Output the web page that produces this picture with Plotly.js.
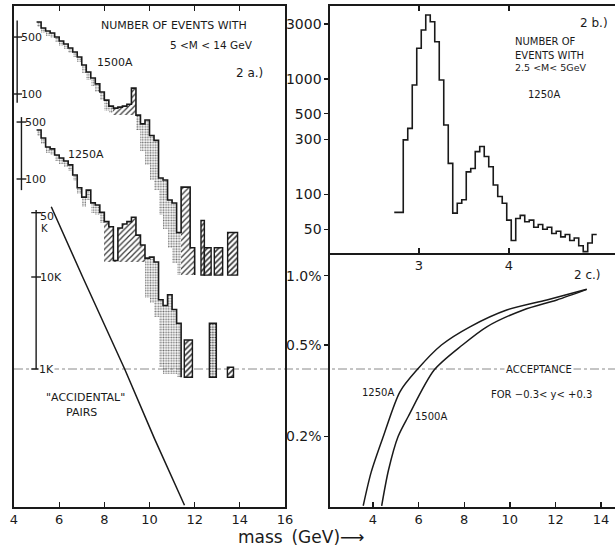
<!DOCTYPE html>
<html><head><meta charset="utf-8">
<script src="https://cdn.plot.ly/plotly-3.0.1.min.js"></script>
<style>html,body{margin:0;padding:0;background:#fff}#chart{width:615px;height:548px}</style>
</head><body><div id="chart"></div>
<script>
// ================= DATA =================
// Panel 2a : number of events, 0.2 GeV bins starting at 5.0 GeV
const binStartA = 5.0, binWidthA = 0.2;
const events1500 = [764, 645, 593, 560, 500, 447, 411, 367, 327, 284, 227, 186, 157, 133, 106, 84, 71, 67, 69, 71, 75, 118, 55, 43, 48, 31, 27, 9.3, 8.8, 5.0, 4.6, 2.0, 7.2, 7.2, 1.3];
const shadeLow1500 = [665, 561, 516, 487, 435, 389, 358, 319, 284, 247, 182, 149, 126, 106, 85, 62, 58, 56, 56, 56, 56, 56, 36, 20, 13.5, 8.8, 6.6, 3.3, 2.2, 1.3, 0.85, 0.6, 0.6, 0.6, 0.6];
const hatchMass1500 = [[8.4, 9.4], [11.4, 12.0]];
const barsLeft1500 = [12.28, 12.43, 12.87, 13.46];
const barsRight1500 = [12.43, 12.73, 13.24, 13.90];
const barsTop1500 = [2.8, 1.3, 1.3, 2.0];
const base1500 = 0.6;

const events1250 = [399, 318, 247, 234, 197, 181, 166, 149, 112, 78, 60, 73, 51, 48, 39, 30, 26, 10, 25, 28, 30, 34, 20.5, 15.5, 10.7, 11, 9.6, 3.3, 2.8, 3.8, 2.5, 1.7];
const shadeLow1250 = [335, 267, 207, 197, 165, 152, 139, 125, 94, 66, 45, 55, 38, 36, 29, 9.5, 9.5, 9.5, 9.5, 9.5, 9.5, 9.5, 9.5, 9.5, 3.5, 3.0, 2.0, 0.5, 0.4, 0.4, 0.4, 0.37];
const hatchMass1250 = [[8.0, 9.8]];
const barsLeft1250 = [11.54, 12.65, 13.45];
const barsRight1250 = [11.90, 12.96, 13.72];
const barsTop1250 = [1.06, 1.7, 0.49];
const barsHatched1250 = [true, false, true];
const base1250 = 0.37;

const accMass = [5.65, 7.04, 8.9, 10.22, 11.55];
const accPairs = [58000, 10000, 1000, 175, 33];

const scaleTicks1500 = [100, 500];
const scaleTicks1250 = [100, 500];
const scaleTicksAcc = [1000, 10000, 50000];

// Panel 2b : 0.05 GeV bins starting at 2.725 GeV (1250A)
const binStartB = 2.725, binWidthB = 0.05;
const eventsLow = [70, 70, 297, 374, 887, 1845, 2655, 3580, 3133, 2104, 980, 400, 186, 69, 84, 90, 157, 168, 235, 260, 213, 174, 121, 96, 84,
                   60, 40, 62, 66, 58, 60, 52, 55, 50, 52, 46, 48, 43, 45, 40, 42, 36, 32, 38, 45];
const ticksB = [50, 100, 300, 500, 1000, 3000];

// Panel 2c : acceptance (%)
const acc1250Mass = [3.57, 3.92, 4.45, 5.18, 5.92, 7.0, 8.25, 9.86, 11.62, 13.37];
const acc1250 = [0.100, 0.140, 0.200, 0.313, 0.389, 0.500, 0.600, 0.710, 0.785, 0.873];
const acc1500Mass = [4.38, 4.68, 5.1, 5.55, 6.68, 7.92, 8.99, 10.59, 12.06, 13.37];
const acc1500 = [0.100, 0.143, 0.200, 0.245, 0.389, 0.500, 0.600, 0.710, 0.785, 0.873];
const ticksC = [0.2, 0.5, 1.0];
const ticksCText = ['0.2%', '0.5%', '1.0%'];

// ================= BUILD =================
const INK = '#1a1a1a';
const W = 615, H = 548;
const px = x => x / W, py = y => 1 - y / H;

function edges(start, width, n) { const e = []; for (let i = 0; i <= n; i++) e.push(+(start + i * width).toFixed(4)); return e; }
function stepLine(ed, vals, base, xa, ya) {
  const x = [], y = [];
  for (let i = 0; i < vals.length; i++) { x.push(ed[i]); y.push(vals[i]); }
  x.push(ed[vals.length]); y.push(vals[vals.length - 1]);
  if (base != null) { x.push(ed[vals.length]); y.push(base); }
  return { type: 'scatter', mode: 'lines', x, y, xaxis: xa, yaxis: ya, line: { shape: 'hv', color: INK, width: 1.6 }, hoverinfo: 'skip' };
}
function inRanges(m, ranges) { return ranges.some(r => m >= r[0] && m <= r[1]); }
function band(ed, vals, low, hatch, ya) {
  const x = [], w = [], b = [], h = [], shp = [], sz = [], sol = [], fg = [];
  for (let i = 0; i < vals.length; i++) {
    const c = (ed[i] + ed[i + 1]) / 2, hat = inRanges(c, hatch);
    x.push(c); w.push(ed[i + 1] - ed[i]); b.push(low[i]); h.push(Math.max(vals[i] - low[i], 0));
    shp.push(hat ? '/' : '.'); sz.push(hat ? 4 : 2.6); sol.push(hat ? 0.3 : 0.4); fg.push(hat ? '#333' : '#707070');
  }
  return { type: 'bar', x, y: h, base: b, width: w, xaxis: 'x', yaxis: ya, hoverinfo: 'skip',
    marker: { color: 'rgba(0,0,0,0)', line: { width: 0 }, pattern: { shape: shp, size: sz, solidity: sol, fgcolor: fg, bgcolor: 'rgba(0,0,0,0)' } } };
}
function bars(L, R, T, base, hatched, ya) {
  const x = L.map((l, i) => (l + R[i]) / 2), w = L.map((l, i) => R[i] - l), y = T.map(t => t - base);
  return { type: 'bar', x, y, base, width: w, xaxis: 'x', yaxis: ya, hoverinfo: 'skip',
    marker: { color: 'white', line: { color: INK, width: 1.4 },
      pattern: { shape: hatched.map(hh => hh ? '/' : '.'), size: hatched.map(hh => hh ? 4 : 2.6), solidity: 0.4, fgcolor: '#333', bgcolor: 'white' } } };
}
function scaleBar(xm, ticks, ya, lo, hi) {
  return [
    { type: 'scatter', mode: 'lines', x: [xm, xm], y: [Math.min(...ticks) * lo, Math.max(...ticks) * hi], xaxis: 'x', yaxis: ya, line: { color: INK, width: 1.4 }, hoverinfo: 'skip' },
    { type: 'scatter', mode: 'markers', x: ticks.map(() => xm), y: ticks, xaxis: 'x', yaxis: ya, hoverinfo: 'skip',
      marker: { symbol: 'line-ew', size: 7, line: { color: INK, width: 1.4 } } }
  ];
}

const edA1500 = edges(binStartA, binWidthA, events1500.length);
const edA1250 = edges(binStartA, binWidthA, events1250.length);
const edB = edges(binStartB, binWidthB, eventsLow.length);

const traces = [
  band(edA1500, events1500, shadeLow1500, hatchMass1500, 'y'),
  band(edA1250, events1250, shadeLow1250, hatchMass1250, 'y2'),
  bars(barsLeft1500, barsRight1500, barsTop1500, base1500, barsLeft1500.map(() => true), 'y'),
  bars(barsLeft1250, barsRight1250, barsTop1250, base1250, barsHatched1250, 'y2'),
  stepLine(edA1500, events1500, base1500, 'x', 'y'),
  stepLine(edA1250, events1250, base1250, 'x', 'y2'),
  { type: 'scatter', mode: 'lines', x: accMass, y: accPairs, xaxis: 'x', yaxis: 'y3', line: { color: INK, width: 1.5 }, hoverinfo: 'skip' },
  ...scaleBar(4.14, scaleTicks1500, 'y', 0.78, 1.6),
  ...scaleBar(4.33, scaleTicks1250, 'y2', 0.73, 1.15),
  ...scaleBar(4.98, scaleTicksAcc, 'y3', 1.0, 1.07),
  stepLine(edB, eventsLow, null, 'x2', 'y4'),
  { type: 'scatter', mode: 'lines', x: acc1250Mass, y: acc1250, xaxis: 'x3', yaxis: 'y5', line: { color: INK, width: 1.5, shape: 'spline', smoothing: 0.8 }, hoverinfo: 'skip' },
  { type: 'scatter', mode: 'lines', x: acc1500Mass, y: acc1500, xaxis: 'x3', yaxis: 'y5', line: { color: INK, width: 1.5, shape: 'spline', smoothing: 0.8 }, hoverinfo: 'skip' }
];

const FONT = 'DejaVu Sans, Liberation Sans, sans-serif';
const axBase = { showgrid: false, zeroline: false, showline: true, linecolor: INK, linewidth: 1.6, tickcolor: INK, tickwidth: 1.3, fixedrange: true };
const tickFontX = { family: FONT, size: 13, color: INK };
const tickFontY = { family: FONT, size: 14, color: INK };

const yTop = 6, yMid = 253, yBot = 507, xA0 = 14, xA1 = 285, xB0 = 330;
const layout = {
  width: W, height: H, margin: { l: 0, r: 0, t: 0, b: 0 }, paper_bgcolor: 'white', plot_bgcolor: 'white',
  showlegend: false, barmode: 'overlay', bargap: 0,
  xaxis: { ...axBase, domain: [px(xA0), px(xA1)], anchor: 'y', range: [4, 16], tickvals: [4, 6, 8, 10, 12, 14, 16], ticks: 'inside', ticklen: 5, mirror: 'ticks', tickfont: tickFontX },
  yaxis: { ...axBase, domain: [py(yBot), py(yTop)], anchor: 'x', type: 'log', range: [2 - (yBot - 94) / 81.5, 2 + (94 - yTop) / 81.5], showticklabels: false, ticks: '', mirror: true },
  yaxis2: { type: 'log', overlaying: 'y', anchor: 'x', range: [2 - (yBot - 179) / 81.5, 2 + (179 - yTop) / 81.5], visible: false, fixedrange: true },
  yaxis3: { type: 'log', overlaying: 'y', anchor: 'x', range: [3 - (yBot - 369) / 92, 3 + (369 - yTop) / 92], visible: false, fixedrange: true },
  xaxis2: { ...axBase, domain: [px(xB0), 1], anchor: 'y4', range: [2.011, 5.178], tickvals: [3, 4], ticks: 'inside', ticklen: 5, mirror: 'ticks', tickfont: tickFontX },
  yaxis4: { ...axBase, domain: [py(yMid), py(yTop)], anchor: 'x2', type: 'log', range: [3 - (yMid - 79) / 115.5, 3 + (79 - yTop) / 115.5],
    tickvals: ticksB, ticktext: ticksB.map(String), ticks: 'outside', ticklen: 4, tickfont: tickFontY },
  xaxis3: { ...axBase, domain: [px(xB0), 1], anchor: 'y5', range: [2.114, 14.61], tickvals: [4, 6, 8, 10, 12, 14], ticks: 'inside', ticklen: 5, tickfont: tickFontX },
  yaxis5: { ...axBase, domain: [py(yBot), py(yMid)], anchor: 'x3', type: 'log', range: [Math.log10(0.5) - (yBot - 345) / 230, Math.log10(0.5) + (345 - yMid) / 230],
    tickvals: ticksC, ticktext: ticksCText, ticks: 'outside', ticklen: 4, tickfont: tickFontY },
  shapes: [
    { type: 'line', xref: 'paper', yref: 'y3', x0: px(xA0), x1: 1, y0: 1000, y1: 1000, layer: 'below', line: { color: '#8a8a8a', width: 1, dash: 'dashdot' } }
  ],
  annotations: []
};

function txt(t, x, y, size, opts) {
  layout.annotations.push(Object.assign({ text: t, xref: 'paper', yref: 'paper', x: px(x), y: py(y), showarrow: false,
    xanchor: 'center', yanchor: 'middle', font: { family: FONT, size: size, color: INK } }, opts || {}));
}
// Panel a texts
txt('NUMBER OF EVENTS WITH', 174, 25, 11);
txt('5 &lt;M &lt; 14 GeV', 211, 45, 10.5);
txt('1500A', 115, 62, 11);
txt('2 a.)', 249, 73, 12);
txt('1250A', 86, 154, 11);
txt('"ACCIDENTAL"', 85, 398, 11);
txt('PAIRS', 81, 412, 11);
// scale-bar labels (data coords; log axes take log10 positions)
function dtxt(t, x, y, ya, size, opts) {
  layout.annotations.push(Object.assign({ text: t, xref: 'x', yref: ya, x: x, y: Math.log10(y), showarrow: false, xanchor: 'left', yanchor: 'middle',
    font: { family: FONT, size: size, color: INK } }, opts || {}));
}
dtxt('500', 4.2, 500, 'y', 11); dtxt('100', 4.2, 100, 'y', 11);
dtxt('500', 4.38, 500, 'y2', 11); dtxt('100', 4.38, 100, 'y2', 11);
dtxt('50', 5.05, 45000, 'y3', 11); dtxt('K', 5.12, 34000, 'y3', 10);
dtxt('10K', 5.05, 10000, 'y3', 11);
dtxt('1K', 5.05, 1000, 'y3', 11, { bgcolor: 'white', borderpad: 0 });
// Panel b texts
txt('2 b.)', 594, 23, 12);
txt('NUMBER OF', 513, 42, 10, { xanchor: 'left' });
txt('EVENTS WITH', 513, 55, 10, { xanchor: 'left' });
txt('2.5 &lt;M&lt; 5GeV', 513, 68, 9.5, { xanchor: 'left' });
txt('1250A', 544, 94, 10);
// Panel c texts
txt('2 c.)', 587, 275, 12);
txt('ACCEPTANCE', 539, 369, 10, { bgcolor: 'white', borderpad: 1 });
txt('FOR \u22120.3&lt; y&lt; +0.3', 541, 394, 10);
txt('1250A', 378, 392, 10);
txt('1500A', 431, 416, 10);
// axis title
txt('mass\u2009 (GeV)\u27F6', 301, 537, 17);

Plotly.newPlot('chart', traces, layout, { staticPlot: true, displayModeBar: false });
</script>
</body></html>
